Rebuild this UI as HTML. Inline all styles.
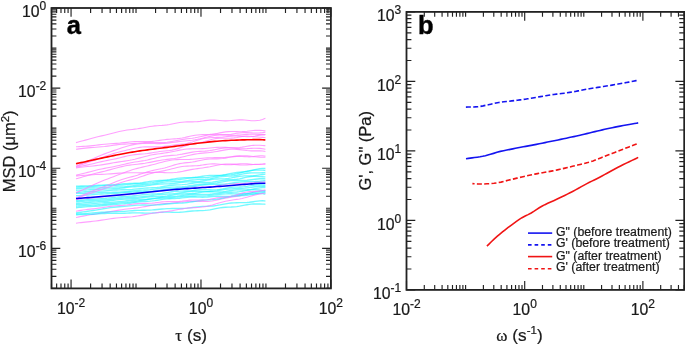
<!DOCTYPE html>
<html><head><meta charset="utf-8"><title>MSD and moduli</title><style>
html,body{margin:0;padding:0;background:#fff;}
body{width:685px;height:345px;overflow:hidden;}
svg{display:block;}
text{font-family:"Liberation Sans",sans-serif;fill:#1a1a1a;stroke:#1a1a1a;stroke-width:0.22px;}
svg{will-change:transform;}
.tl{font-size:15.8px;}
.sup{font-size:12px;}
.sup2{font-size:11.5px;}
.pl{font-size:25.5px;font-weight:bold;fill:#000;stroke:#000;stroke-width:0.4px;}
.at{font-size:16.5px;}
.atx{font-size:17.2px;}
.gr{font-family:"Liberation Serif",serif;font-size:17px;}
.lg{font-size:12.3px;}
.cy{fill:none;stroke:#00f4ff;stroke-width:1.35;stroke-opacity:0.55;}
.pk{fill:none;stroke:#ff7cff;stroke-width:1.1;stroke-opacity:0.72;}
.rd{fill:none;stroke:#ff0000;stroke-width:1.6;}
.bl{fill:none;stroke:#0000f4;stroke-width:1.55;}
.b2{fill:none;stroke-width:1.6;}
.ds{stroke-dasharray:5 2.3;}
.dl{stroke-dasharray:3.6 3;}
</style></head><body>
<svg width="685" height="345" viewBox="0 0 685 345">
<rect width="685" height="345" fill="#fff"/>
<path d="M76 217.49 L77.41 217.23 L79.06 216.9 L80.94 216.53 L83.03 216.13 L85.3 215.69 L87.74 215.25 L90.32 214.8 L93.02 214.36 L95.81 213.93 L98.69 213.51 L101.62 213.08 L104.58 212.64 L107.56 212.16 L110.53 211.65 L113.48 211.12 L116.37 210.59 L119.19 210.1 L121.91 209.67 L124.52 209.3 L127 209 L129.65 208.71 L132.26 208.43 L134.85 208.15 L137.4 207.85 L139.93 207.49 L142.44 207.08 L144.94 206.63 L147.41 206.14 L149.88 205.65 L152.33 205.17 L154.78 204.73 L157.22 204.35 L159.67 204.04 L162.12 203.79 L164.57 203.59 L167.03 203.41 L169.51 203.24 L172 203.04 L174.51 202.82 L177.04 202.56 L179.58 202.28 L182.13 201.99 L184.7 201.72 L187.26 201.5 L189.82 201.36 L192.38 201.31 L194.94 201.33 L197.48 201.41 L200.01 201.5 L202.52 201.57 L205.01 201.57 L207.47 201.47 L209.91 201.25 L212.31 200.92 L214.67 200.5 L217 200.01 L219.79 199.37 L222.63 198.74 L225.49 198.15 L228.35 197.64 L231.21 197.21 L234.03 196.8 L236.8 196.38 L239.51 195.89 L242.12 195.32 L244.64 194.67 L247.03 193.99 L249.28 193.32 L251.37 192.7 L253.28 192.17 L255 191.75 L259.78 190.95 L262.57 190.78 L264.18 190.8 L265.4 190.82" class="pk"/>
<path d="M76 199.5 L77.41 199.34 L79.06 199.17 L80.94 198.98 L83.03 198.78 L85.3 198.58 L87.74 198.37 L90.32 198.16 L93.02 197.93 L95.81 197.67 L98.69 197.39 L101.62 197.07 L104.58 196.72 L107.56 196.35 L110.53 195.99 L113.48 195.65 L116.37 195.35 L119.19 195.11 L121.91 194.91 L124.52 194.75 L127 194.6 L129.65 194.43 L132.26 194.23 L134.85 193.97 L137.4 193.66 L139.93 193.3 L142.44 192.89 L144.94 192.45 L147.41 192.01 L149.88 191.57 L152.33 191.17 L154.78 190.81 L157.22 190.49 L159.67 190.22 L162.12 189.98 L164.57 189.77 L167.03 189.55 L169.51 189.32 L172 189.06 L174.51 188.77 L177.04 188.45 L179.58 188.12 L182.13 187.79 L184.7 187.49 L187.26 187.24 L189.82 187.07 L192.38 186.97 L194.94 186.95 L197.48 186.97 L200.01 187.02 L202.52 187.05 L205.01 187.03 L207.47 186.94 L209.91 186.77 L212.31 186.51 L214.67 186.17 L217 185.79 L219.79 185.29 L222.63 184.8 L225.49 184.37 L228.35 184.04 L231.21 183.81 L234.03 183.68 L236.8 183.6 L239.51 183.53 L242.12 183.44 L244.64 183.3 L247.03 183.1 L249.28 182.87 L251.37 182.61 L253.28 182.36 L255 182.15 L259.78 181.7 L262.57 181.68 L264.18 181.8 L265.4 181.9" class="pk"/>
<path d="M76 176 L77.41 175.88 L79.06 175.73 L80.94 175.56 L83.03 175.38 L85.3 175.19 L87.74 175 L90.32 174.83 L93.02 174.68 L95.81 174.56 L98.69 174.45 L101.62 174.35 L104.58 174.23 L107.56 174.07 L110.53 173.87 L113.48 173.63 L116.37 173.39 L119.19 173.16 L121.91 172.98 L124.52 172.84 L127 172.77 L129.65 172.74 L132.26 172.75 L134.85 172.79 L137.4 172.82 L139.93 172.83 L142.44 172.8 L144.94 172.74 L147.41 172.65 L149.88 172.55 L152.33 172.47 L154.78 172.42 L157.22 172.42 L159.67 172.46 L162.12 172.54 L164.57 172.63 L167.03 172.72 L169.51 172.75 L172 172.71 L174.51 172.56 L177.04 172.29 L179.58 171.91 L182.13 171.44 L184.7 170.91 L187.26 170.38 L189.82 169.86 L192.38 169.4 L194.94 168.98 L197.48 168.62 L200.01 168.29 L202.52 167.95 L205.01 167.58 L207.47 167.16 L209.91 166.7 L212.31 166.19 L214.67 165.68 L217 165.2 L219.79 164.69 L222.63 164.3 L225.49 164.08 L228.35 164.03 L231.21 164.15 L234.03 164.37 L236.8 164.61 L239.51 164.83 L242.12 164.96 L244.64 164.98 L247.03 164.93 L249.28 164.81 L251.37 164.66 L253.28 164.52 L255 164.39 L259.78 164.19 L262.57 164.23 L264.18 164.32 L265.4 164.4" class="pk"/>
<path d="M76 186.1 L77.41 186.07 L79.06 186.05 L80.94 186.02 L83.03 185.99 L85.3 185.94 L87.74 185.85 L90.32 185.72 L93.02 185.56 L95.81 185.38 L98.69 185.21 L101.62 185.08 L104.58 185 L107.56 184.94 L110.53 184.86 L113.48 184.74 L116.37 184.54 L119.19 184.3 L121.91 184.03 L124.52 183.79 L127 183.59 L129.65 183.44 L132.26 183.32 L134.85 183.22 L137.4 183.09 L139.93 182.9 L142.44 182.63 L144.94 182.29 L147.41 181.91 L149.88 181.53 L152.33 181.18 L154.78 180.89 L157.22 180.68 L159.67 180.51 L162.12 180.37 L164.57 180.19 L167.03 179.96 L169.51 179.63 L172 179.24 L174.51 178.81 L177.04 178.4 L179.58 178.05 L182.13 177.81 L184.7 177.67 L187.26 177.6 L189.82 177.55 L192.38 177.46 L194.94 177.27 L197.48 176.97 L200.01 176.61 L202.52 176.23 L205.01 175.89 L207.47 175.65 L209.91 175.53 L212.31 175.49 L214.67 175.5 L217 175.49 L219.79 175.37 L222.63 175.06 L225.49 174.57 L228.35 173.96 L231.21 173.34 L234.03 172.83 L236.8 172.46 L239.51 172.23 L242.12 172.04 L244.64 171.82 L247.03 171.51 L249.28 171.1 L251.37 170.61 L253.28 170.1 L255 169.64 L259.78 168.57 L262.57 168.34 L264.18 168.42 L265.4 168.49" class="cy"/>
<path d="M76 187.17 L77.41 187.1 L79.06 187.02 L80.94 186.95 L83.03 186.89 L85.3 186.82 L87.74 186.74 L90.32 186.64 L93.02 186.5 L95.81 186.32 L98.69 186.1 L101.62 185.87 L104.58 185.67 L107.56 185.51 L110.53 185.41 L113.48 185.35 L116.37 185.29 L119.19 185.2 L121.91 185.05 L124.52 184.85 L127 184.61 L129.65 184.35 L132.26 184.09 L134.85 183.88 L137.4 183.71 L139.93 183.59 L142.44 183.47 L144.94 183.34 L147.41 183.15 L149.88 182.89 L152.33 182.56 L154.78 182.17 L157.22 181.75 L159.67 181.35 L162.12 180.98 L164.57 180.69 L167.03 180.47 L169.51 180.31 L172 180.17 L174.51 180.02 L177.04 179.81 L179.58 179.53 L182.13 179.18 L184.7 178.8 L187.26 178.42 L189.82 178.1 L192.38 177.88 L194.94 177.77 L197.48 177.74 L200.01 177.75 L202.52 177.74 L205.01 177.66 L207.47 177.48 L209.91 177.19 L212.31 176.82 L214.67 176.41 L217 176.02 L219.79 175.6 L222.63 175.27 L225.49 175.04 L228.35 174.85 L231.21 174.61 L234.03 174.25 L236.8 173.72 L239.51 173.07 L242.12 172.36 L244.64 171.68 L247.03 171.1 L249.28 170.67 L251.37 170.38 L253.28 170.2 L255 170.11 L259.78 170.09 L262.57 170.16 L264.18 170.28 L265.4 170.31" class="cy"/>
<path d="M76 188.52 L77.41 188.43 L79.06 188.33 L80.94 188.23 L83.03 188.15 L85.3 188.09 L87.74 188.05 L90.32 188.02 L93.02 187.98 L95.81 187.92 L98.69 187.82 L101.62 187.67 L104.58 187.49 L107.56 187.32 L110.53 187.18 L113.48 187.09 L116.37 187.04 L119.19 186.99 L121.91 186.91 L124.52 186.76 L127 186.54 L129.65 186.24 L132.26 185.89 L134.85 185.54 L137.4 185.23 L139.93 184.97 L142.44 184.76 L144.94 184.58 L147.41 184.41 L149.88 184.2 L152.33 183.93 L154.78 183.6 L157.22 183.22 L159.67 182.82 L162.12 182.45 L164.57 182.15 L167.03 181.93 L169.51 181.81 L172 181.76 L174.51 181.73 L177.04 181.67 L179.58 181.53 L182.13 181.3 L184.7 180.99 L187.26 180.63 L189.82 180.28 L192.38 180 L194.94 179.81 L197.48 179.7 L200.01 179.64 L202.52 179.57 L205.01 179.42 L207.47 179.17 L209.91 178.81 L212.31 178.35 L214.67 177.85 L217 177.37 L219.79 176.87 L222.63 176.51 L225.49 176.28 L228.35 176.13 L231.21 175.97 L234.03 175.71 L236.8 175.3 L239.51 174.77 L242.12 174.2 L244.64 173.69 L247.03 173.28 L249.28 173.02 L251.37 172.88 L253.28 172.83 L255 172.83 L259.78 172.83 L262.57 172.73 L264.18 172.66 L265.4 172.54" class="cy"/>
<path d="M76 190.25 L77.41 190.2 L79.06 190.15 L80.94 190.1 L83.03 190.06 L85.3 190 L87.74 189.91 L90.32 189.79 L93.02 189.63 L95.81 189.45 L98.69 189.26 L101.62 189.09 L104.58 188.97 L107.56 188.89 L110.53 188.81 L113.48 188.71 L116.37 188.55 L119.19 188.32 L121.91 188.03 L124.52 187.73 L127 187.44 L129.65 187.17 L132.26 186.95 L134.85 186.78 L137.4 186.63 L139.93 186.47 L142.44 186.26 L144.94 186 L147.41 185.68 L149.88 185.31 L152.33 184.94 L154.78 184.6 L157.22 184.32 L159.67 184.12 L162.12 184 L164.57 183.93 L167.03 183.87 L169.51 183.77 L172 183.61 L174.51 183.36 L177.04 183.04 L179.58 182.69 L182.13 182.36 L184.7 182.09 L187.26 181.92 L189.82 181.82 L192.38 181.78 L194.94 181.72 L197.48 181.59 L200.01 181.36 L202.52 181.02 L205.01 180.6 L207.47 180.14 L209.91 179.72 L212.31 179.37 L214.67 179.13 L217 178.98 L219.79 178.89 L222.63 178.8 L225.49 178.63 L228.35 178.31 L231.21 177.85 L234.03 177.3 L236.8 176.77 L239.51 176.34 L242.12 176.07 L244.64 175.94 L247.03 175.9 L249.28 175.89 L251.37 175.85 L253.28 175.75 L255 175.61 L259.78 174.92 L262.57 174.48 L264.18 174.31 L265.4 174.19" class="cy"/>
<path d="M76 192.37 L77.41 192.3 L79.06 192.21 L80.94 192.09 L83.03 191.95 L85.3 191.79 L87.74 191.63 L90.32 191.49 L93.02 191.37 L95.81 191.28 L98.69 191.19 L101.62 191.08 L104.58 190.92 L107.56 190.7 L110.53 190.44 L113.48 190.18 L116.37 189.97 L119.19 189.84 L121.91 189.77 L124.52 189.73 L127 189.68 L129.65 189.57 L132.26 189.4 L134.85 189.15 L137.4 188.87 L139.93 188.59 L142.44 188.33 L144.94 188.14 L147.41 188 L149.88 187.89 L152.33 187.79 L154.78 187.64 L157.22 187.41 L159.67 187.1 L162.12 186.71 L164.57 186.28 L167.03 185.86 L169.51 185.5 L172 185.22 L174.51 185.04 L177.04 184.91 L179.58 184.8 L182.13 184.64 L184.7 184.4 L187.26 184.06 L189.82 183.66 L192.38 183.25 L194.94 182.89 L197.48 182.64 L200.01 182.51 L202.52 182.47 L205.01 182.47 L207.47 182.44 L209.91 182.33 L212.31 182.09 L214.67 181.74 L217 181.32 L219.79 180.79 L222.63 180.32 L225.49 179.97 L228.35 179.77 L231.21 179.65 L234.03 179.5 L236.8 179.23 L239.51 178.81 L242.12 178.27 L244.64 177.69 L247.03 177.17 L249.28 176.78 L251.37 176.53 L253.28 176.42 L255 176.4 L259.78 176.61 L262.57 176.79 L264.18 176.91 L265.4 176.94" class="cy"/>
<path d="M76 193.45 L77.41 193.41 L79.06 193.37 L80.94 193.34 L83.03 193.3 L85.3 193.26 L87.74 193.19 L90.32 193.1 L93.02 192.99 L95.81 192.85 L98.69 192.69 L101.62 192.55 L104.58 192.44 L107.56 192.36 L110.53 192.32 L113.48 192.29 L116.37 192.24 L119.19 192.14 L121.91 191.98 L124.52 191.77 L127 191.53 L129.65 191.24 L132.26 190.95 L134.85 190.69 L137.4 190.46 L139.93 190.28 L142.44 190.13 L144.94 189.98 L147.41 189.82 L149.88 189.63 L152.33 189.38 L154.78 189.08 L157.22 188.74 L159.67 188.39 L162.12 188.04 L164.57 187.73 L167.03 187.48 L169.51 187.3 L172 187.19 L174.51 187.11 L177.04 187.04 L179.58 186.94 L182.13 186.77 L184.7 186.52 L187.26 186.18 L189.82 185.78 L192.38 185.36 L194.94 184.96 L197.48 184.61 L200.01 184.33 L202.52 184.13 L205.01 183.97 L207.47 183.84 L209.91 183.68 L212.31 183.47 L214.67 183.2 L217 182.85 L219.79 182.35 L222.63 181.81 L225.49 181.3 L228.35 180.88 L231.21 180.61 L234.03 180.48 L236.8 180.47 L239.51 180.49 L242.12 180.49 L244.64 180.41 L247.03 180.26 L249.28 180.03 L251.37 179.77 L253.28 179.51 L255 179.27 L259.78 178.78 L262.57 178.71 L264.18 178.77 L265.4 178.82" class="cy"/>
<path d="M76 195.75 L77.41 195.68 L79.06 195.59 L80.94 195.48 L83.03 195.35 L85.3 195.19 L87.74 195 L90.32 194.8 L93.02 194.59 L95.81 194.38 L98.69 194.18 L101.62 194.01 L104.58 193.86 L107.56 193.74 L110.53 193.61 L113.48 193.48 L116.37 193.32 L119.19 193.12 L121.91 192.9 L124.52 192.68 L127 192.45 L129.65 192.23 L132.26 192.03 L134.85 191.87 L137.4 191.75 L139.93 191.67 L142.44 191.6 L144.94 191.53 L147.41 191.45 L149.88 191.32 L152.33 191.15 L154.78 190.92 L157.22 190.65 L159.67 190.33 L162.12 189.99 L164.57 189.65 L167.03 189.33 L169.51 189.03 L172 188.78 L174.51 188.56 L177.04 188.37 L179.58 188.18 L182.13 187.97 L184.7 187.73 L187.26 187.44 L189.82 187.09 L192.38 186.69 L194.94 186.25 L197.48 185.81 L200.01 185.4 L202.52 185.04 L205.01 184.75 L207.47 184.54 L209.91 184.41 L212.31 184.34 L214.67 184.31 L217 184.28 L219.79 184.23 L222.63 184.1 L225.49 183.88 L228.35 183.57 L231.21 183.19 L234.03 182.79 L236.8 182.41 L239.51 182.1 L242.12 181.88 L244.64 181.75 L247.03 181.67 L249.28 181.63 L251.37 181.6 L253.28 181.56 L255 181.5 L259.78 181.17 L262.57 180.91 L264.18 180.77 L265.4 180.64" class="cy"/>
<path d="M76 200.66 L77.41 200.55 L79.06 200.42 L80.94 200.26 L83.03 200.06 L85.3 199.85 L87.74 199.63 L90.32 199.42 L93.02 199.22 L95.81 199.05 L98.69 198.89 L101.62 198.72 L104.58 198.49 L107.56 198.19 L110.53 197.84 L113.48 197.47 L116.37 197.12 L119.19 196.82 L121.91 196.6 L124.52 196.44 L127 196.31 L129.65 196.17 L132.26 195.98 L134.85 195.73 L137.4 195.43 L139.93 195.11 L142.44 194.79 L144.94 194.5 L147.41 194.27 L149.88 194.11 L152.33 193.99 L154.78 193.88 L157.22 193.75 L159.67 193.56 L162.12 193.3 L164.57 192.95 L167.03 192.55 L169.51 192.13 L172 191.75 L174.51 191.45 L177.04 191.24 L179.58 191.13 L182.13 191.08 L184.7 191.04 L187.26 190.96 L189.82 190.8 L192.38 190.57 L194.94 190.29 L197.48 190.01 L200.01 189.78 L202.52 189.66 L205.01 189.63 L207.47 189.69 L209.91 189.78 L212.31 189.84 L214.67 189.82 L217 189.68 L219.79 189.34 L222.63 188.86 L225.49 188.31 L228.35 187.8 L231.21 187.43 L234.03 187.2 L236.8 187.08 L239.51 187 L242.12 186.86 L244.64 186.63 L247.03 186.31 L249.28 185.93 L251.37 185.56 L253.28 185.23 L255 184.99 L259.78 184.7 L262.57 184.84 L264.18 185.02 L265.4 185.16" class="cy"/>
<path d="M76 201.83 L77.41 201.71 L79.06 201.57 L80.94 201.41 L83.03 201.25 L85.3 201.08 L87.74 200.9 L90.32 200.74 L93.02 200.58 L95.81 200.42 L98.69 200.26 L101.62 200.07 L104.58 199.84 L107.56 199.57 L110.53 199.26 L113.48 198.93 L116.37 198.59 L119.19 198.29 L121.91 198.02 L124.52 197.81 L127 197.65 L129.65 197.51 L132.26 197.38 L134.85 197.25 L137.4 197.1 L139.93 196.92 L142.44 196.69 L144.94 196.43 L147.41 196.13 L149.88 195.82 L152.33 195.5 L154.78 195.2 L157.22 194.93 L159.67 194.7 L162.12 194.51 L164.57 194.34 L167.03 194.18 L169.51 194.01 L172 193.83 L174.51 193.6 L177.04 193.32 L179.58 192.99 L182.13 192.63 L184.7 192.27 L187.26 191.94 L189.82 191.66 L192.38 191.46 L194.94 191.34 L197.48 191.3 L200.01 191.31 L202.52 191.35 L205.01 191.38 L207.47 191.37 L209.91 191.29 L212.31 191.13 L214.67 190.9 L217 190.62 L219.79 190.22 L222.63 189.8 L225.49 189.41 L228.35 189.09 L231.21 188.85 L234.03 188.69 L236.8 188.57 L239.51 188.46 L242.12 188.31 L244.64 188.12 L247.03 187.87 L249.28 187.59 L251.37 187.3 L253.28 187.02 L255 186.78 L259.78 186.29 L262.57 186.22 L264.18 186.29 L265.4 186.37" class="cy"/>
<path d="M76 203.52 L77.41 203.42 L79.06 203.29 L80.94 203.13 L83.03 202.93 L85.3 202.7 L87.74 202.46 L90.32 202.23 L93.02 202 L95.81 201.8 L98.69 201.62 L101.62 201.44 L104.58 201.23 L107.56 200.96 L110.53 200.64 L113.48 200.28 L116.37 199.92 L119.19 199.6 L121.91 199.35 L124.52 199.17 L127 199.03 L129.65 198.9 L132.26 198.76 L134.85 198.58 L137.4 198.34 L139.93 198.05 L142.44 197.73 L144.94 197.42 L147.41 197.14 L149.88 196.92 L152.33 196.76 L154.78 196.65 L157.22 196.57 L159.67 196.47 L162.12 196.33 L164.57 196.11 L167.03 195.82 L169.51 195.46 L172 195.07 L174.51 194.69 L177.04 194.36 L179.58 194.12 L182.13 193.96 L184.7 193.86 L187.26 193.79 L189.82 193.68 L192.38 193.5 L194.94 193.24 L197.48 192.91 L200.01 192.54 L202.52 192.2 L205.01 191.93 L207.47 191.76 L209.91 191.71 L212.31 191.73 L214.67 191.8 L217 191.86 L219.79 191.84 L222.63 191.69 L225.49 191.38 L228.35 190.97 L231.21 190.54 L234.03 190.18 L236.8 189.95 L239.51 189.85 L242.12 189.83 L244.64 189.81 L247.03 189.73 L249.28 189.57 L251.37 189.33 L253.28 189.03 L255 188.71 L259.78 187.83 L262.57 187.52 L264.18 187.48 L265.4 187.49" class="cy"/>
<path d="M76 204.71 L77.41 204.64 L79.06 204.57 L80.94 204.49 L83.03 204.39 L85.3 204.27 L87.74 204.11 L90.32 203.92 L93.02 203.7 L95.81 203.45 L98.69 203.18 L101.62 202.93 L104.58 202.71 L107.56 202.53 L110.53 202.36 L113.48 202.17 L116.37 201.95 L119.19 201.69 L121.91 201.39 L124.52 201.07 L127 200.76 L129.65 200.46 L132.26 200.21 L134.85 200.01 L137.4 199.86 L139.93 199.74 L142.44 199.62 L144.94 199.47 L147.41 199.27 L149.88 199 L152.33 198.68 L154.78 198.31 L157.22 197.93 L159.67 197.57 L162.12 197.26 L164.57 197 L167.03 196.81 L169.51 196.65 L172 196.51 L174.51 196.35 L177.04 196.14 L179.58 195.86 L182.13 195.53 L184.7 195.16 L187.26 194.81 L189.82 194.52 L192.38 194.32 L194.94 194.23 L197.48 194.24 L200.01 194.3 L202.52 194.38 L205.01 194.42 L207.47 194.37 L209.91 194.23 L212.31 193.99 L214.67 193.69 L217 193.36 L219.79 192.98 L222.63 192.66 L225.49 192.45 L228.35 192.33 L231.21 192.26 L234.03 192.16 L236.8 191.97 L239.51 191.67 L242.12 191.28 L244.64 190.84 L247.03 190.43 L249.28 190.1 L251.37 189.87 L253.28 189.75 L255 189.72 L259.78 189.99 L262.57 190.33 L264.18 190.58 L265.4 190.73" class="cy"/>
<path d="M76 206.24 L77.41 206.12 L79.06 205.99 L80.94 205.85 L83.03 205.71 L85.3 205.58 L87.74 205.44 L90.32 205.3 L93.02 205.15 L95.81 204.98 L98.69 204.78 L101.62 204.55 L104.58 204.27 L107.56 203.98 L110.53 203.67 L113.48 203.38 L116.37 203.11 L119.19 202.87 L121.91 202.66 L124.52 202.47 L127 202.28 L129.65 202.05 L132.26 201.79 L134.85 201.48 L137.4 201.12 L139.93 200.73 L142.44 200.33 L144.94 199.92 L147.41 199.53 L149.88 199.18 L152.33 198.88 L154.78 198.64 L157.22 198.44 L159.67 198.29 L162.12 198.17 L164.57 198.06 L167.03 197.94 L169.51 197.79 L172 197.61 L174.51 197.39 L177.04 197.14 L179.58 196.88 L182.13 196.62 L184.7 196.38 L187.26 196.2 L189.82 196.07 L192.38 195.99 L194.94 195.96 L197.48 195.95 L200.01 195.94 L202.52 195.89 L205.01 195.8 L207.47 195.64 L209.91 195.42 L212.31 195.16 L214.67 194.87 L217 194.57 L219.79 194.24 L222.63 193.97 L225.49 193.8 L228.35 193.73 L231.21 193.75 L234.03 193.81 L236.8 193.86 L239.51 193.86 L242.12 193.78 L244.64 193.62 L247.03 193.38 L249.28 193.1 L251.37 192.81 L253.28 192.53 L255 192.3 L259.78 191.79 L262.57 191.68 L264.18 191.69 L265.4 191.71" class="cy"/>
<path d="M76 207.71 L77.41 207.59 L79.06 207.44 L80.94 207.26 L83.03 207.06 L85.3 206.87 L87.74 206.68 L90.32 206.52 L93.02 206.37 L95.81 206.22 L98.69 206.04 L101.62 205.79 L104.58 205.47 L107.56 205.12 L110.53 204.77 L113.48 204.47 L116.37 204.25 L119.19 204.09 L121.91 203.94 L124.52 203.76 L127 203.53 L129.65 203.21 L132.26 202.84 L134.85 202.46 L137.4 202.13 L139.93 201.86 L142.44 201.66 L144.94 201.52 L147.41 201.37 L149.88 201.19 L152.33 200.94 L154.78 200.61 L157.22 200.22 L159.67 199.8 L162.12 199.42 L164.57 199.11 L167.03 198.89 L169.51 198.76 L172 198.68 L174.51 198.6 L177.04 198.45 L179.58 198.22 L182.13 197.9 L184.7 197.55 L187.26 197.23 L189.82 197.01 L192.38 196.92 L194.94 196.97 L197.48 197.08 L200.01 197.2 L202.52 197.24 L205.01 197.18 L207.47 197 L209.91 196.76 L212.31 196.52 L214.67 196.33 L217 196.24 L219.79 196.25 L222.63 196.36 L225.49 196.46 L228.35 196.41 L231.21 196.16 L234.03 195.71 L236.8 195.17 L239.51 194.67 L242.12 194.29 L244.64 194.08 L247.03 194 L249.28 193.98 L251.37 193.95 L253.28 193.87 L255 193.75 L259.78 193.13 L262.57 192.77 L264.18 192.67 L265.4 192.61" class="cy"/>
<path d="M76 212.99 L77.41 212.77 L79.06 212.52 L80.94 212.23 L83.03 211.93 L85.3 211.6 L87.74 211.26 L90.32 210.89 L93.02 210.49 L95.81 210.05 L98.69 209.56 L101.62 209.05 L104.58 208.53 L107.56 208.05 L110.53 207.63 L113.48 207.29 L116.37 207.01 L119.19 206.78 L121.91 206.56 L124.52 206.33 L127 206.1 L129.65 205.84 L132.26 205.58 L134.85 205.35 L137.4 205.17 L139.93 205.06 L142.44 205.01 L144.94 205.02 L147.41 205.06 L149.88 205.1 L152.33 205.11 L154.78 205.06 L157.22 204.94 L159.67 204.75 L162.12 204.51 L164.57 204.23 L167.03 203.97 L169.51 203.73 L172 203.53 L174.51 203.38 L177.04 203.27 L179.58 203.17 L182.13 203.03 L184.7 202.83 L187.26 202.54 L189.82 202.17 L192.38 201.74 L194.94 201.29 L197.48 200.88 L200.01 200.53 L202.52 200.27 L205.01 200.08 L207.47 199.94 L209.91 199.81 L212.31 199.65 L214.67 199.42 L217 199.11 L219.79 198.62 L222.63 198.03 L225.49 197.4 L228.35 196.82 L231.21 196.37 L234.03 196.06 L236.8 195.87 L239.51 195.76 L242.12 195.64 L244.64 195.48 L247.03 195.24 L249.28 194.94 L251.37 194.61 L253.28 194.3 L255 194.03 L259.78 193.57 L262.57 193.7 L264.18 193.99 L265.4 194.21" class="cy"/>
<path d="M76 213.95 L77.41 213.88 L79.06 213.8 L80.94 213.71 L83.03 213.61 L85.3 213.48 L87.74 213.33 L90.32 213.15 L93.02 212.94 L95.81 212.71 L98.69 212.48 L101.62 212.27 L104.58 212.1 L107.56 211.99 L110.53 211.91 L113.48 211.85 L116.37 211.79 L119.19 211.68 L121.91 211.54 L124.52 211.35 L127 211.15 L129.65 210.92 L132.26 210.71 L134.85 210.54 L137.4 210.41 L139.93 210.33 L142.44 210.27 L144.94 210.23 L147.41 210.17 L149.88 210.08 L152.33 209.94 L154.78 209.74 L157.22 209.51 L159.67 209.26 L162.12 209.01 L164.57 208.8 L167.03 208.64 L169.51 208.55 L172 208.51 L174.51 208.52 L177.04 208.54 L179.58 208.53 L182.13 208.47 L184.7 208.33 L187.26 208.1 L189.82 207.81 L192.38 207.48 L194.94 207.15 L197.48 206.85 L200.01 206.62 L202.52 206.45 L205.01 206.33 L207.47 206.23 L209.91 206.11 L212.31 205.96 L214.67 205.73 L217 205.42 L219.79 204.96 L222.63 204.42 L225.49 203.87 L228.35 203.38 L231.21 203.02 L234.03 202.8 L236.8 202.71 L239.51 202.68 L242.12 202.67 L244.64 202.6 L247.03 202.46 L249.28 202.25 L251.37 201.99 L253.28 201.71 L255 201.45 L259.78 200.85 L262.57 200.76 L264.18 200.88 L265.4 200.97" class="cy"/>
<path d="M76 214.79 L77.41 214.73 L79.06 214.67 L80.94 214.62 L83.03 214.57 L85.3 214.51 L87.74 214.45 L90.32 214.37 L93.02 214.25 L95.81 214.09 L98.69 213.9 L101.62 213.69 L104.58 213.5 L107.56 213.37 L110.53 213.31 L113.48 213.3 L116.37 213.32 L119.19 213.33 L121.91 213.3 L124.52 213.22 L127 213.11 L129.65 212.99 L132.26 212.88 L134.85 212.83 L137.4 212.83 L139.93 212.88 L142.44 212.97 L144.94 213.05 L147.41 213.09 L149.88 213.07 L152.33 212.98 L154.78 212.83 L157.22 212.64 L159.67 212.45 L162.12 212.29 L164.57 212.19 L167.03 212.17 L169.51 212.2 L172 212.27 L174.51 212.32 L177.04 212.32 L179.58 212.24 L182.13 212.06 L184.7 211.81 L187.26 211.52 L189.82 211.24 L192.38 211.01 L194.94 210.85 L197.48 210.76 L200.01 210.7 L202.52 210.61 L205.01 210.45 L207.47 210.19 L209.91 209.82 L212.31 209.36 L214.67 208.86 L217 208.38 L219.79 207.87 L222.63 207.48 L225.49 207.24 L228.35 207.11 L231.21 207.02 L234.03 206.86 L236.8 206.59 L239.51 206.19 L242.12 205.7 L244.64 205.19 L247.03 204.74 L249.28 204.39 L251.37 204.15 L253.28 204.01 L255 203.95 L259.78 203.96 L262.57 204.06 L264.18 204.19 L265.4 204.22" class="cy"/>
<path d="M76 142.6 L77.41 142.26 L79.06 141.84 L80.94 141.34 L83.03 140.76 L85.3 140.11 L87.74 139.41 L90.32 138.68 L93.02 137.95 L95.81 137.23 L98.69 136.55 L101.62 135.9 L104.58 135.24 L107.56 134.54 L110.53 133.81 L113.48 133.03 L116.37 132.27 L119.19 131.55 L121.91 130.94 L124.52 130.44 L127 130.06 L129.65 129.72 L132.26 129.43 L134.85 129.12 L137.4 128.78 L139.93 128.38 L142.44 127.93 L144.94 127.45 L147.41 126.98 L149.88 126.55 L152.33 126.19 L154.78 125.92 L157.22 125.72 L159.67 125.55 L162.12 125.39 L164.57 125.17 L167.03 124.88 L169.51 124.5 L172 124.02 L174.51 123.5 L177.04 122.99 L179.58 122.55 L182.13 122.21 L184.7 122.01 L187.26 121.91 L189.82 121.89 L192.38 121.86 L194.94 121.78 L197.48 121.61 L200.01 121.34 L202.52 121.01 L205.01 120.66 L207.47 120.36 L209.91 120.16 L212.31 120.09 L214.67 120.15 L217 120.3 L219.79 120.54 L222.63 120.76 L225.49 120.87 L228.35 120.8 L231.21 120.57 L234.03 120.27 L236.8 120 L239.51 119.85 L242.12 119.87 L244.64 120.03 L247.03 120.28 L249.28 120.53 L251.37 120.72 L253.28 120.82 L255 120.81 L259.78 120.2 L262.57 119.42 L264.18 118.78 L265.4 118.34" class="pk"/>
<path d="M76 146.81 L77.41 146.73 L79.06 146.64 L80.94 146.54 L83.03 146.42 L85.3 146.27 L87.74 146.09 L90.32 145.86 L93.02 145.58 L95.81 145.26 L98.69 144.91 L101.62 144.56 L104.58 144.25 L107.56 144 L110.53 143.79 L113.48 143.6 L116.37 143.41 L119.19 143.19 L121.91 142.92 L124.52 142.62 L127 142.33 L129.65 142.03 L132.26 141.78 L134.85 141.62 L137.4 141.54 L139.93 141.52 L142.44 141.55 L144.94 141.58 L147.41 141.57 L149.88 141.5 L152.33 141.33 L154.78 141.07 L157.22 140.75 L159.67 140.39 L162.12 140.03 L164.57 139.7 L167.03 139.42 L169.51 139.2 L172 139.03 L174.51 138.86 L177.04 138.64 L179.58 138.35 L182.13 137.96 L184.7 137.47 L187.26 136.91 L189.82 136.33 L192.38 135.78 L194.94 135.32 L197.48 134.98 L200.01 134.77 L202.52 134.65 L205.01 134.59 L207.47 134.51 L209.91 134.37 L212.31 134.15 L214.67 133.82 L217 133.42 L219.79 132.88 L222.63 132.35 L225.49 131.9 L228.35 131.62 L231.21 131.51 L234.03 131.54 L236.8 131.63 L239.51 131.7 L242.12 131.67 L244.64 131.53 L247.03 131.31 L249.28 131.03 L251.37 130.77 L253.28 130.55 L255 130.39 L259.78 130.31 L262.57 130.53 L264.18 130.73 L265.4 130.9" class="pk"/>
<path d="M76 149.27 L77.41 149.09 L79.06 148.88 L80.94 148.64 L83.03 148.38 L85.3 148.13 L87.74 147.88 L90.32 147.65 L93.02 147.44 L95.81 147.24 L98.69 147.04 L101.62 146.79 L104.58 146.48 L107.56 146.1 L110.53 145.68 L113.48 145.25 L116.37 144.86 L119.19 144.53 L121.91 144.28 L124.52 144.09 L127 143.95 L129.65 143.81 L132.26 143.65 L134.85 143.47 L137.4 143.25 L139.93 143.02 L142.44 142.78 L144.94 142.59 L147.41 142.45 L149.88 142.38 L152.33 142.39 L154.78 142.45 L157.22 142.53 L159.67 142.59 L162.12 142.58 L164.57 142.47 L167.03 142.24 L169.51 141.9 L172 141.45 L174.51 140.94 L177.04 140.42 L179.58 139.92 L182.13 139.49 L184.7 139.12 L187.26 138.81 L189.82 138.52 L192.38 138.19 L194.94 137.79 L197.48 137.32 L200.01 136.76 L202.52 136.18 L205.01 135.61 L207.47 135.11 L209.91 134.73 L212.31 134.49 L214.67 134.4 L217 134.42 L219.79 134.53 L222.63 134.64 L225.49 134.66 L228.35 134.52 L231.21 134.2 L234.03 133.78 L236.8 133.33 L239.51 132.95 L242.12 132.71 L244.64 132.62 L247.03 132.66 L249.28 132.77 L251.37 132.9 L253.28 133 L255 133.05 L259.78 132.88 L262.57 132.6 L264.18 132.39 L265.4 132.23" class="pk"/>
<path d="M76 165.99 L77.41 165.46 L79.06 164.81 L80.94 164.05 L83.03 163.17 L85.3 162.2 L87.74 161.14 L90.32 160 L93.02 158.8 L95.81 157.57 L98.69 156.32 L101.62 155.08 L104.58 153.88 L107.56 152.74 L110.53 151.66 L113.48 150.64 L116.37 149.66 L119.19 148.73 L121.91 147.84 L124.52 147.01 L127 146.27 L129.65 145.54 L132.26 144.9 L134.85 144.37 L137.4 143.94 L139.93 143.63 L142.44 143.44 L144.94 143.35 L147.41 143.34 L149.88 143.39 L152.33 143.48 L154.78 143.56 L157.22 143.61 L159.67 143.61 L162.12 143.54 L164.57 143.4 L167.03 143.19 L169.51 142.91 L172 142.57 L174.51 142.21 L177.04 141.87 L179.58 141.56 L182.13 141.28 L184.7 141.02 L187.26 140.77 L189.82 140.5 L192.38 140.18 L194.94 139.8 L197.48 139.33 L200.01 138.79 L202.52 138.19 L205.01 137.57 L207.47 136.94 L209.91 136.37 L212.31 135.87 L214.67 135.47 L217 135.19 L219.79 135.01 L222.63 134.96 L225.49 135.01 L228.35 135.1 L231.21 135.17 L234.03 135.18 L236.8 135.11 L239.51 134.97 L242.12 134.78 L244.64 134.58 L247.03 134.41 L249.28 134.29 L251.37 134.22 L253.28 134.21 L255 134.23 L259.78 134.44 L262.57 134.64 L264.18 134.75 L265.4 134.82" class="pk"/>
<path d="M76 166.75 L77.41 166.23 L79.06 165.61 L80.94 164.92 L83.03 164.16 L85.3 163.36 L87.74 162.53 L90.32 161.65 L93.02 160.74 L95.81 159.77 L98.69 158.76 L101.62 157.69 L104.58 156.6 L107.56 155.52 L110.53 154.5 L113.48 153.57 L116.37 152.73 L119.19 151.99 L121.91 151.31 L124.52 150.67 L127 150.07 L129.65 149.44 L132.26 148.82 L134.85 148.25 L137.4 147.75 L139.93 147.34 L142.44 147.05 L144.94 146.88 L147.41 146.82 L149.88 146.83 L152.33 146.88 L154.78 146.92 L157.22 146.91 L159.67 146.81 L162.12 146.63 L164.57 146.36 L167.03 146.04 L169.51 145.68 L172 145.32 L174.51 144.98 L177.04 144.67 L179.58 144.38 L182.13 144.07 L184.7 143.7 L187.26 143.23 L189.82 142.63 L192.38 141.91 L194.94 141.1 L197.48 140.28 L200.01 139.5 L202.52 138.82 L205.01 138.3 L207.47 137.93 L209.91 137.7 L212.31 137.57 L214.67 137.49 L217 137.41 L219.79 137.27 L222.63 137.03 L225.49 136.72 L228.35 136.38 L231.21 136.1 L234.03 135.96 L236.8 135.97 L239.51 136.13 L242.12 136.35 L244.64 136.56 L247.03 136.68 L249.28 136.68 L251.37 136.56 L253.28 136.35 L255 136.07 L259.78 135.15 L262.57 134.73 L264.18 134.58 L265.4 134.52" class="pk"/>
<path d="M76 167.2 L77.41 166.92 L79.06 166.6 L80.94 166.24 L83.03 165.83 L85.3 165.38 L87.74 164.88 L90.32 164.3 L93.02 163.67 L95.81 162.98 L98.69 162.28 L101.62 161.59 L104.58 160.94 L107.56 160.35 L110.53 159.8 L113.48 159.24 L116.37 158.64 L119.19 157.98 L121.91 157.3 L124.52 156.62 L127 156 L129.65 155.42 L132.26 154.95 L134.85 154.61 L137.4 154.36 L139.93 154.17 L142.44 153.99 L144.94 153.78 L147.41 153.5 L149.88 153.15 L152.33 152.75 L154.78 152.33 L157.22 151.93 L159.67 151.57 L162.12 151.27 L164.57 151.02 L167.03 150.78 L169.51 150.49 L172 150.1 L174.51 149.57 L177.04 148.86 L179.58 148.01 L182.13 147.08 L184.7 146.14 L187.26 145.27 L189.82 144.51 L192.38 143.89 L194.94 143.38 L197.48 142.92 L200.01 142.46 L202.52 141.94 L205.01 141.34 L207.47 140.67 L209.91 139.97 L212.31 139.33 L214.67 138.79 L217 138.4 L219.79 138.16 L222.63 138.12 L225.49 138.19 L228.35 138.23 L231.21 138.14 L234.03 137.86 L236.8 137.44 L239.51 136.96 L242.12 136.53 L244.64 136.25 L247.03 136.15 L249.28 136.22 L251.37 136.38 L253.28 136.59 L255 136.77 L259.78 137.18 L262.57 137.38 L264.18 137.55 L265.4 137.62" class="pk"/>
<path d="M76 168.02 L77.41 167.79 L79.06 167.55 L80.94 167.29 L83.03 167.03 L85.3 166.76 L87.74 166.5 L90.32 166.22 L93.02 165.94 L95.81 165.63 L98.69 165.27 L101.62 164.86 L104.58 164.4 L107.56 163.88 L110.53 163.35 L113.48 162.83 L116.37 162.34 L119.19 161.9 L121.91 161.49 L124.52 161.11 L127 160.73 L129.65 160.28 L132.26 159.77 L134.85 159.2 L137.4 158.57 L139.93 157.9 L142.44 157.21 L144.94 156.54 L147.41 155.91 L149.88 155.33 L152.33 154.83 L154.78 154.4 L157.22 154.02 L159.67 153.68 L162.12 153.35 L164.57 153 L167.03 152.62 L169.51 152.19 L172 151.71 L174.51 151.2 L177.04 150.67 L179.58 150.15 L182.13 149.69 L184.7 149.32 L187.26 149.05 L189.82 148.87 L192.38 148.79 L194.94 148.75 L197.48 148.73 L200.01 148.69 L202.52 148.59 L205.01 148.44 L207.47 148.24 L209.91 147.99 L212.31 147.75 L214.67 147.53 L217 147.35 L219.79 147.25 L222.63 147.26 L225.49 147.38 L228.35 147.55 L231.21 147.7 L234.03 147.76 L236.8 147.68 L239.51 147.44 L242.12 147.09 L244.64 146.67 L247.03 146.24 L249.28 145.86 L251.37 145.55 L253.28 145.35 L255 145.22 L259.78 145.24 L262.57 145.47 L264.18 145.67 L265.4 145.81" class="pk"/>
<path d="M76 175.17 L77.41 174.87 L79.06 174.51 L80.94 174.08 L83.03 173.58 L85.3 173.02 L87.74 172.39 L90.32 171.72 L93.02 171.01 L95.81 170.29 L98.69 169.59 L101.62 168.94 L104.58 168.34 L107.56 167.78 L110.53 167.24 L113.48 166.68 L116.37 166.08 L119.19 165.45 L121.91 164.8 L124.52 164.17 L127 163.59 L129.65 163.02 L132.26 162.51 L134.85 162.07 L137.4 161.67 L139.93 161.29 L142.44 160.89 L144.94 160.46 L147.41 159.96 L149.88 159.4 L152.33 158.79 L154.78 158.17 L157.22 157.56 L159.67 157 L162.12 156.53 L164.57 156.14 L167.03 155.85 L169.51 155.62 L172 155.42 L174.51 155.2 L177.04 154.93 L179.58 154.58 L182.13 154.14 L184.7 153.63 L187.26 153.1 L189.82 152.59 L192.38 152.15 L194.94 151.81 L197.48 151.56 L200.01 151.38 L202.52 151.24 L205.01 151.08 L207.47 150.86 L209.91 150.55 L212.31 150.14 L214.67 149.67 L217 149.17 L219.79 148.59 L222.63 148.13 L225.49 147.84 L228.35 147.77 L231.21 147.89 L234.03 148.14 L236.8 148.41 L239.51 148.63 L242.12 148.73 L244.64 148.72 L247.03 148.63 L249.28 148.49 L251.37 148.36 L253.28 148.27 L255 148.22 L259.78 148.38 L262.57 148.72 L264.18 148.98 L265.4 149.17" class="pk"/>
<path d="M76 178.79 L77.41 178.42 L79.06 177.96 L80.94 177.43 L83.03 176.83 L85.3 176.18 L87.74 175.48 L90.32 174.77 L93.02 174.04 L95.81 173.32 L98.69 172.6 L101.62 171.89 L104.58 171.16 L107.56 170.4 L110.53 169.63 L113.48 168.83 L116.37 168.04 L119.19 167.3 L121.91 166.62 L124.52 166.03 L127 165.55 L129.65 165.12 L132.26 164.77 L134.85 164.47 L137.4 164.19 L139.93 163.91 L142.44 163.6 L144.94 163.24 L147.41 162.82 L149.88 162.36 L152.33 161.87 L154.78 161.38 L157.22 160.89 L159.67 160.44 L162.12 160.04 L164.57 159.68 L167.03 159.37 L169.51 159.08 L172 158.79 L174.51 158.46 L177.04 158.07 L179.58 157.6 L182.13 157.06 L184.7 156.46 L187.26 155.83 L189.82 155.21 L192.38 154.63 L194.94 154.12 L197.48 153.7 L200.01 153.37 L202.52 153.11 L205.01 152.89 L207.47 152.69 L209.91 152.45 L212.31 152.17 L214.67 151.82 L217 151.43 L219.79 150.91 L222.63 150.37 L225.49 149.88 L228.35 149.5 L231.21 149.29 L234.03 149.26 L236.8 149.41 L239.51 149.67 L242.12 150 L244.64 150.31 L247.03 150.57 L249.28 150.75 L251.37 150.84 L253.28 150.87 L255 150.84 L259.78 150.76 L262.57 150.94 L264.18 151.21 L265.4 151.42" class="pk"/>
<path d="M76 192.7 L77.41 192.13 L79.06 191.43 L80.94 190.62 L83.03 189.68 L85.3 188.65 L87.74 187.52 L90.32 186.32 L93.02 185.07 L95.81 183.79 L98.69 182.51 L101.62 181.26 L104.58 180.05 L107.56 178.89 L110.53 177.76 L113.48 176.65 L116.37 175.57 L119.19 174.5 L121.91 173.46 L124.52 172.49 L127 171.59 L129.65 170.68 L132.26 169.83 L134.85 169.05 L137.4 168.35 L139.93 167.7 L142.44 167.11 L144.94 166.54 L147.41 165.98 L149.88 165.41 L152.33 164.81 L154.78 164.17 L157.22 163.51 L159.67 162.84 L162.12 162.17 L164.57 161.54 L167.03 160.96 L169.51 160.47 L172 160.07 L174.51 159.79 L177.04 159.63 L179.58 159.55 L182.13 159.53 L184.7 159.52 L187.26 159.49 L189.82 159.41 L192.38 159.27 L194.94 159.06 L197.48 158.8 L200.01 158.52 L202.52 158.26 L205.01 158.03 L207.47 157.86 L209.91 157.74 L212.31 157.68 L214.67 157.66 L217 157.63 L219.79 157.59 L222.63 157.5 L225.49 157.33 L228.35 157.07 L231.21 156.75 L234.03 156.4 L236.8 156.09 L239.51 155.86 L242.12 155.76 L244.64 155.78 L247.03 155.9 L249.28 156.1 L251.37 156.32 L253.28 156.54 L255 156.72 L259.78 157.09 L262.57 157.21 L264.18 157.27 L265.4 157.26" class="pk"/>
<path d="M76 197.92 L77.41 197.38 L79.06 196.71 L80.94 195.93 L83.03 195.04 L85.3 194.06 L87.74 193 L90.32 191.91 L93.02 190.79 L95.81 189.69 L98.69 188.6 L101.62 187.51 L104.58 186.39 L107.56 185.23 L110.53 184.01 L113.48 182.79 L116.37 181.6 L119.19 180.5 L121.91 179.54 L124.52 178.72 L127 178.02 L129.65 177.33 L132.26 176.65 L134.85 175.93 L137.4 175.17 L139.93 174.35 L142.44 173.51 L144.94 172.68 L147.41 171.9 L149.88 171.2 L152.33 170.59 L154.78 170.05 L157.22 169.56 L159.67 169.07 L162.12 168.54 L164.57 167.92 L167.03 167.22 L169.51 166.45 L172 165.65 L174.51 164.87 L177.04 164.19 L179.58 163.63 L182.13 163.21 L184.7 162.9 L187.26 162.64 L189.82 162.37 L192.38 162.03 L194.94 161.59 L197.48 161.06 L200.01 160.5 L202.52 159.96 L205.01 159.5 L207.47 159.18 L209.91 158.99 L212.31 158.92 L214.67 158.9 L217 158.88 L219.79 158.78 L222.63 158.52 L225.49 158.1 L228.35 157.56 L231.21 157.02 L234.03 156.61 L236.8 156.39 L239.51 156.37 L242.12 156.49 L244.64 156.67 L247.03 156.8 L249.28 156.83 L251.37 156.76 L253.28 156.6 L255 156.39 L259.78 155.81 L262.57 155.77 L264.18 155.95 L265.4 156.12" class="pk"/>
<path d="M76 198.71 L77.41 198.21 L79.06 197.61 L80.94 196.9 L83.03 196.11 L85.3 195.26 L87.74 194.35 L90.32 193.42 L93.02 192.48 L95.81 191.54 L98.69 190.59 L101.62 189.62 L104.58 188.6 L107.56 187.53 L110.53 186.41 L113.48 185.27 L116.37 184.17 L119.19 183.15 L121.91 182.25 L124.52 181.47 L127 180.79 L129.65 180.1 L132.26 179.41 L134.85 178.68 L137.4 177.91 L139.93 177.08 L142.44 176.22 L144.94 175.36 L147.41 174.54 L149.88 173.78 L152.33 173.11 L154.78 172.52 L157.22 172.02 L159.67 171.56 L162.12 171.1 L164.57 170.62 L167.03 170.08 L169.51 169.48 L172 168.83 L174.51 168.17 L177.04 167.54 L179.58 166.99 L182.13 166.56 L184.7 166.27 L187.26 166.09 L189.82 165.99 L192.38 165.91 L194.94 165.8 L197.48 165.61 L200.01 165.34 L202.52 165.01 L205.01 164.65 L207.47 164.31 L209.91 164.06 L212.31 163.92 L214.67 163.91 L217 163.99 L219.79 164.19 L222.63 164.44 L225.49 164.63 L228.35 164.69 L231.21 164.58 L234.03 164.36 L236.8 164.09 L239.51 163.86 L242.12 163.75 L244.64 163.78 L247.03 163.92 L249.28 164.12 L251.37 164.31 L253.28 164.47 L255 164.54 L259.78 164.37 L262.57 163.97 L264.18 163.67 L265.4 163.42" class="pk"/>
<path d="M76 211.17 L77.41 210.94 L79.06 210.66 L80.94 210.35 L83.03 210.03 L85.3 209.71 L87.74 209.41 L90.32 209.12 L93.02 208.83 L95.81 208.5 L98.69 208.13 L101.62 207.69 L104.58 207.21 L107.56 206.75 L110.53 206.35 L113.48 206.04 L116.37 205.82 L119.19 205.65 L121.91 205.47 L124.52 205.24 L127 204.97 L129.65 204.61 L132.26 204.25 L134.85 203.91 L137.4 203.65 L139.93 203.49 L142.44 203.41 L144.94 203.39 L147.41 203.37 L149.88 203.29 L152.33 203.14 L154.78 202.89 L157.22 202.57 L159.67 202.23 L162.12 201.92 L164.57 201.69 L167.03 201.57 L169.51 201.54 L172 201.56 L174.51 201.58 L177.04 201.54 L179.58 201.39 L182.13 201.13 L184.7 200.79 L187.26 200.44 L189.82 200.15 L192.38 199.99 L194.94 199.96 L197.48 200.04 L200.01 200.13 L202.52 200.17 L205.01 200.07 L207.47 199.8 L209.91 199.39 L212.31 198.88 L214.67 198.36 L217 197.89 L219.79 197.45 L222.63 197.16 L225.49 196.95 L228.35 196.72 L231.21 196.33 L234.03 195.71 L236.8 194.89 L239.51 193.99 L242.12 193.13 L244.64 192.44 L247.03 191.96 L249.28 191.67 L251.37 191.53 L253.28 191.45 L255 191.38 L259.78 190.97 L262.57 190.48 L264.18 190.15 L265.4 189.87" class="pk"/>
<path d="M76 223.19 L77.41 223.01 L79.06 222.81 L80.94 222.59 L83.03 222.36 L85.3 222.11 L87.74 221.86 L90.32 221.58 L93.02 221.28 L95.81 220.95 L98.69 220.58 L101.62 220.16 L104.58 219.7 L107.56 219.24 L110.53 218.79 L113.48 218.38 L116.37 218.03 L119.19 217.75 L121.91 217.53 L124.52 217.34 L127 217.16 L129.65 216.94 L132.26 216.69 L134.85 216.38 L137.4 216.01 L139.93 215.59 L142.44 215.13 L144.94 214.65 L147.41 214.18 L149.88 213.74 L152.33 213.33 L154.78 212.97 L157.22 212.65 L159.67 212.36 L162.12 212.08 L164.57 211.8 L167.03 211.49 L169.51 211.13 L172 210.72 L174.51 210.27 L177.04 209.8 L179.58 209.32 L182.13 208.87 L184.7 208.48 L187.26 208.15 L189.82 207.91 L192.38 207.73 L194.94 207.59 L197.48 207.45 L200.01 207.27 L202.52 207.02 L205.01 206.66 L207.47 206.2 L209.91 205.63 L212.31 204.98 L214.67 204.28 L217 203.57 L219.79 202.73 L222.63 201.94 L225.49 201.26 L228.35 200.7 L231.21 200.23 L234.03 199.82 L236.8 199.41 L239.51 198.96 L242.12 198.43 L244.64 197.84 L247.03 197.2 L249.28 196.55 L251.37 195.93 L253.28 195.37 L255 194.91 L259.78 193.84 L262.57 193.43 L264.18 193.29 L265.4 193.18" class="pk"/>
<path d="M76 163.7 L77.41 163.4 L79.06 163.04 L80.94 162.63 L83.03 162.17 L85.3 161.67 L87.74 161.14 L90.32 160.57 L93.02 159.98 L95.81 159.37 L98.69 158.74 L101.62 158.11 L104.58 157.48 L107.56 156.85 L110.53 156.22 L113.48 155.62 L116.37 155.03 L119.19 154.47 L121.91 153.94 L124.52 153.45 L127 153 L129.65 152.54 L132.26 152.1 L134.85 151.69 L137.4 151.29 L139.93 150.91 L142.44 150.54 L144.94 150.19 L147.41 149.85 L149.88 149.53 L152.33 149.2 L154.78 148.89 L157.22 148.58 L159.67 148.27 L162.12 147.96 L164.57 147.65 L167.03 147.34 L169.51 147.02 L172 146.7 L174.51 146.37 L177.04 146.03 L179.58 145.69 L182.13 145.35 L184.7 145.01 L187.26 144.66 L189.82 144.32 L192.38 143.99 L194.94 143.66 L197.48 143.33 L200.01 143.02 L202.52 142.71 L205.01 142.42 L207.47 142.14 L209.91 141.88 L212.31 141.64 L214.67 141.41 L217 141.2 L219.79 140.98 L222.63 140.78 L225.49 140.6 L228.35 140.44 L231.21 140.3 L234.03 140.18 L236.8 140.08 L239.51 139.99 L242.12 139.91 L244.64 139.84 L247.03 139.78 L249.28 139.73 L251.37 139.68 L253.28 139.64 L255 139.6 L259.78 139.57 L262.57 139.7 L264.18 139.88 L265.4 140" class="rd"/>
<path d="M76 198.6 L77.41 198.48 L79.06 198.35 L80.94 198.19 L83.03 198.02 L85.3 197.83 L87.74 197.63 L90.32 197.42 L93.02 197.2 L95.81 196.97 L98.69 196.73 L101.62 196.49 L104.58 196.24 L107.56 195.99 L110.53 195.74 L113.48 195.49 L116.37 195.24 L119.19 195 L121.91 194.76 L124.52 194.52 L127 194.3 L129.65 194.05 L132.26 193.8 L134.85 193.55 L137.4 193.29 L139.93 193.03 L142.44 192.77 L144.94 192.5 L147.41 192.24 L149.88 191.98 L152.33 191.72 L154.78 191.46 L157.22 191.21 L159.67 190.96 L162.12 190.72 L164.57 190.48 L167.03 190.24 L169.51 190.02 L172 189.8 L174.51 189.59 L177.04 189.39 L179.58 189.19 L182.13 189 L184.7 188.81 L187.26 188.63 L189.82 188.45 L192.38 188.28 L194.94 188.11 L197.48 187.94 L200.01 187.77 L202.52 187.6 L205.01 187.44 L207.47 187.27 L209.91 187.11 L212.31 186.94 L214.67 186.77 L217 186.6 L219.79 186.39 L222.63 186.17 L225.49 185.94 L228.35 185.72 L231.21 185.49 L234.03 185.26 L236.8 185.03 L239.51 184.81 L242.12 184.6 L244.64 184.39 L247.03 184.2 L249.28 184.02 L251.37 183.86 L253.28 183.72 L255 183.6 L259.78 183.33 L262.57 183.26 L264.18 183.29 L265.4 183.3" class="bl"/>
<path d="M466 158.7 L468.39 158.4 L472.1 157.9 L474.48 157.57 L477.24 157.18 L480.05 156.75 L482.6 156.3 L485.36 155.7 L487.82 155.05 L490.5 154.3 L493.62 153.37 L496.96 152.33 L500.3 151.4 L503.57 150.67 L506.85 150.05 L510.2 149.4 L512.78 148.85 L515.41 148.29 L518.06 147.73 L520.7 147.2 L523.25 146.75 L525.74 146.34 L528.34 145.91 L531.2 145.4 L533.72 144.91 L536.4 144.37 L539.19 143.8 L542.07 143.2 L545 142.6 L547.52 142.09 L550.16 141.55 L552.84 141 L555.51 140.45 L558.12 139.91 L560.6 139.4 L563.51 138.79 L566.39 138.18 L569.14 137.59 L571.65 137.06 L573.8 136.6 L576.63 136.04 L580 135.3 L581.91 134.84 L584.18 134.28 L586.71 133.65 L589.41 132.97 L592.17 132.29 L594.9 131.62 L597.5 131 L599.95 130.42 L602.33 129.87 L604.7 129.32 L607.1 128.77 L609.58 128.22 L612.2 127.67 L615 127.1 L617.45 126.62 L620.22 126.11 L623.17 125.57 L626.19 125.02 L629.17 124.5 L631.97 124 L634.49 123.56 L636.61 123.18 L638.2 122.9" class="b2" stroke="#1414f0"/>
<path d="M465.9 107.1 L468.07 107.06 L471.19 107.02 L474.64 106.91 L477.8 106.7 L480.52 106.34 L483.14 105.87 L485.71 105.34 L488.3 104.8 L490.86 104.24 L493.39 103.63 L495.99 103.04 L498.8 102.5 L501.25 102.14 L503.85 101.81 L506.53 101.51 L509.23 101.22 L511.9 100.9 L514.58 100.57 L517.3 100.23 L520.01 99.88 L522.63 99.54 L525.1 99.2 L527.79 98.8 L530.19 98.41 L532.67 98 L535.6 97.5 L537.9 97.1 L540.38 96.66 L543.01 96.19 L545.75 95.71 L548.56 95.24 L551.4 94.8 L553.87 94.45 L556.41 94.13 L558.99 93.82 L561.63 93.5 L564.3 93.17 L566.99 92.81 L569.7 92.4 L572.44 91.93 L575.23 91.42 L578.04 90.87 L580.88 90.31 L583.73 89.75 L586.57 89.21 L589.4 88.7 L592.21 88.23 L595.03 87.78 L597.84 87.35 L600.66 86.93 L603.47 86.5 L606.29 86.06 L609.1 85.6 L612 85.11 L615.03 84.58 L618.08 84.04 L621.08 83.51 L623.92 83 L626.53 82.52 L628.8 82.1 L633.04 81.28 L636.14 80.63 L638.2 80.2" class="b2 ds" stroke="#1414f0"/>
<path d="M486.9 246.1 L488.73 244.33 L491.34 241.8 L494.35 238.94 L497.4 236.2 L499.86 234.12 L502.49 231.97 L505.18 229.82 L507.85 227.74 L510.4 225.8 L513.45 223.53 L516.44 221.39 L519.3 219.43 L522 217.7 L525.17 215.97 L528.08 214.61 L531.2 213 L533.76 211.4 L536.43 209.62 L539.25 207.78 L542.3 206 L544.94 204.66 L547.75 203.35 L550.67 202.04 L553.67 200.71 L556.7 199.3 L559.28 198.06 L561.95 196.79 L564.66 195.48 L567.36 194.15 L570.03 192.82 L572.6 191.5 L575.59 189.9 L578.51 188.28 L581.36 186.66 L584.16 185.09 L586.9 183.6 L589.47 182.28 L591.86 181.1 L594.26 179.94 L596.81 178.68 L599.7 177.2 L602.01 175.97 L604.47 174.63 L607.06 173.2 L609.74 171.73 L612.47 170.23 L615.24 168.74 L618 167.3 L620.57 165.99 L623.39 164.59 L626.32 163.15 L629.24 161.73 L632.02 160.39 L634.53 159.18 L636.63 158.16 L638.2 157.4" class="b2" stroke="#f01414"/>
<path d="M472.4 183.6 L474.39 183.73 L477.23 183.9 L480 184 L483.54 183.96 L487 183.8 L490.5 183.61 L494 183.3 L497.5 182.78 L501 182.1 L504.5 181.23 L508 180.3 L511.62 179.41 L515 178.6 L516.84 178.13 L520 177.4 L521.84 176.99 L524.09 176.49 L526.63 175.92 L529.34 175.32 L532.14 174.72 L534.89 174.13 L537.5 173.6 L540 173.12 L542.5 172.67 L545 172.23 L547.5 171.8 L550 171.36 L552.5 170.9 L555 170.4 L557.5 169.86 L560 169.3 L562.5 168.72 L565 168.13 L567.5 167.52 L570 166.91 L572.5 166.3 L575.03 165.7 L577.6 165.09 L580.18 164.48 L582.74 163.86 L585.26 163.23 L587.68 162.58 L590 161.9 L593.02 160.9 L595.85 159.85 L598.57 158.77 L601.26 157.68 L604 156.6 L606.7 155.57 L609.3 154.57 L611.95 153.54 L614.8 152.44 L618 151.2 L620.37 150.28 L623.09 149.22 L626.01 148.07 L628.98 146.91 L631.83 145.79 L634.43 144.78 L636.6 143.93 L638.2 143.3" class="b2 ds" stroke="#f01414" stroke-dashoffset="2.8"/>
<path d="M528 233.1 H552.2" class="b2" stroke="#1414f0"/>
<text x="556" y="235.5" class="lg">G&quot; (before treatment)</text>
<path d="M528 244.9 H552.2" class="b2 dl" stroke="#1414f0"/>
<text x="556" y="247" class="lg">G' (before treatment)</text>
<path d="M528 256.6 H552.2" class="b2" stroke="#f01414"/>
<text x="556" y="259.5" class="lg">G&quot; (after treatment)</text>
<path d="M528 268.7 H552.2" class="b2 dl" stroke="#f01414"/>
<text x="556" y="270.8" class="lg">G' (after treatment)</text>
<path d="M51.5 288.4v-4.9M51.5 8v4.9M56.64 288.4v-4.9M56.64 8v4.9M60.99 288.4v-4.9M60.99 8v4.9M64.76 288.4v-4.9M64.76 8v4.9M68.08 288.4v-4.9M68.08 8v4.9M71.06 288.4v-8.8M71.06 8v8.8M90.61 288.4v-4.9M90.61 8v4.9M102.05 288.4v-4.9M102.05 8v4.9M110.17 288.4v-4.9M110.17 8v4.9M116.46 288.4v-4.9M116.46 8v4.9M121.6 288.4v-4.9M121.6 8v4.9M125.95 288.4v-4.9M125.95 8v4.9M129.72 288.4v-4.9M129.72 8v4.9M133.04 288.4v-4.9M133.04 8v4.9M136.02 288.4v-4.9M136.02 8v4.9M155.57 288.4v-4.9M155.57 8v4.9M167.01 288.4v-4.9M167.01 8v4.9M175.13 288.4v-4.9M175.13 8v4.9M181.42 288.4v-4.9M181.42 8v4.9M186.57 288.4v-4.9M186.57 8v4.9M190.92 288.4v-4.9M190.92 8v4.9M194.68 288.4v-4.9M194.68 8v4.9M198.01 288.4v-4.9M198.01 8v4.9M200.98 288.4v-8.8M200.98 8v8.8M220.53 288.4v-4.9M220.53 8v4.9M231.97 288.4v-4.9M231.97 8v4.9M240.09 288.4v-4.9M240.09 8v4.9M246.38 288.4v-4.9M246.38 8v4.9M251.53 288.4v-4.9M251.53 8v4.9M255.88 288.4v-4.9M255.88 8v4.9M259.64 288.4v-4.9M259.64 8v4.9M262.97 288.4v-4.9M262.97 8v4.9M265.94 288.4v-4.9M265.94 8v4.9M285.49 288.4v-4.9M285.49 8v4.9M296.93 288.4v-4.9M296.93 8v4.9M305.05 288.4v-4.9M305.05 8v4.9M311.34 288.4v-4.9M311.34 8v4.9M316.49 288.4v-4.9M316.49 8v4.9M320.84 288.4v-4.9M320.84 8v4.9M324.6 288.4v-4.9M324.6 8v4.9M327.93 288.4v-4.9M327.93 8v4.9M330.9 288.4v-8.8M330.9 8v8.8M51.5 288.4h4.9M330.9 288.4h-4.9M51.5 276.34h4.9M330.9 276.34h-4.9M51.5 269.29h4.9M330.9 269.29h-4.9M51.5 264.28h4.9M330.9 264.28h-4.9M51.5 260.4h4.9M330.9 260.4h-4.9M51.5 257.23h4.9M330.9 257.23h-4.9M51.5 254.55h4.9M330.9 254.55h-4.9M51.5 252.22h4.9M330.9 252.22h-4.9M51.5 250.18h4.9M330.9 250.18h-4.9M51.5 248.34h8.8M330.9 248.34h-8.8M51.5 236.28h4.9M330.9 236.28h-4.9M51.5 229.23h4.9M330.9 229.23h-4.9M51.5 224.23h4.9M330.9 224.23h-4.9M51.5 220.34h4.9M330.9 220.34h-4.9M51.5 217.17h4.9M330.9 217.17h-4.9M51.5 214.49h4.9M330.9 214.49h-4.9M51.5 212.17h4.9M330.9 212.17h-4.9M51.5 210.12h4.9M330.9 210.12h-4.9M51.5 208.29h4.9M330.9 208.29h-4.9M51.5 196.23h4.9M330.9 196.23h-4.9M51.5 189.17h4.9M330.9 189.17h-4.9M51.5 184.17h4.9M330.9 184.17h-4.9M51.5 180.29h4.9M330.9 180.29h-4.9M51.5 177.12h4.9M330.9 177.12h-4.9M51.5 174.43h4.9M330.9 174.43h-4.9M51.5 172.11h4.9M330.9 172.11h-4.9M51.5 170.06h4.9M330.9 170.06h-4.9M51.5 168.23h8.8M330.9 168.23h-8.8M51.5 156.17h4.9M330.9 156.17h-4.9M51.5 149.12h4.9M330.9 149.12h-4.9M51.5 144.11h4.9M330.9 144.11h-4.9M51.5 140.23h4.9M330.9 140.23h-4.9M51.5 137.06h4.9M330.9 137.06h-4.9M51.5 134.38h4.9M330.9 134.38h-4.9M51.5 132.05h4.9M330.9 132.05h-4.9M51.5 130h4.9M330.9 130h-4.9M51.5 128.17h4.9M330.9 128.17h-4.9M51.5 116.11h4.9M330.9 116.11h-4.9M51.5 109.06h4.9M330.9 109.06h-4.9M51.5 104.05h4.9M330.9 104.05h-4.9M51.5 100.17h4.9M330.9 100.17h-4.9M51.5 97h4.9M330.9 97h-4.9M51.5 94.32h4.9M330.9 94.32h-4.9M51.5 92h4.9M330.9 92h-4.9M51.5 89.95h4.9M330.9 89.95h-4.9M51.5 88.11h8.8M330.9 88.11h-8.8M51.5 76.06h4.9M330.9 76.06h-4.9M51.5 69h4.9M330.9 69h-4.9M51.5 64h4.9M330.9 64h-4.9M51.5 60.12h4.9M330.9 60.12h-4.9M51.5 56.94h4.9M330.9 56.94h-4.9M51.5 54.26h4.9M330.9 54.26h-4.9M51.5 51.94h4.9M330.9 51.94h-4.9M51.5 49.89h4.9M330.9 49.89h-4.9M51.5 48.06h4.9M330.9 48.06h-4.9M51.5 36h4.9M330.9 36h-4.9M51.5 28.95h4.9M330.9 28.95h-4.9M51.5 23.94h4.9M330.9 23.94h-4.9M51.5 20.06h4.9M330.9 20.06h-4.9M51.5 16.89h4.9M330.9 16.89h-4.9M51.5 14.2h4.9M330.9 14.2h-4.9M51.5 11.88h4.9M330.9 11.88h-4.9M51.5 9.83h4.9M330.9 9.83h-4.9M51.5 8h8.8M330.9 8h-8.8" stroke="#222" stroke-width="1.15" fill="none"/>
<rect x="51.5" y="8" width="279.4" height="280.4" stroke="#222" stroke-width="1.8" fill="none"/>
<path d="M406.5 289.9v-8.8M406.5 11.9v8.8M424.29 289.9v-4.9M424.29 11.9v4.9M434.7 289.9v-4.9M434.7 11.9v4.9M442.08 289.9v-4.9M442.08 11.9v4.9M447.81 289.9v-4.9M447.81 11.9v4.9M452.49 289.9v-4.9M452.49 11.9v4.9M456.44 289.9v-4.9M456.44 11.9v4.9M459.87 289.9v-4.9M459.87 11.9v4.9M462.89 289.9v-4.9M462.89 11.9v4.9M465.6 289.9v-4.9M465.6 11.9v4.9M483.39 289.9v-4.9M483.39 11.9v4.9M493.79 289.9v-4.9M493.79 11.9v4.9M501.18 289.9v-4.9M501.18 11.9v4.9M506.91 289.9v-4.9M506.91 11.9v4.9M511.59 289.9v-4.9M511.59 11.9v4.9M515.54 289.9v-4.9M515.54 11.9v4.9M518.97 289.9v-4.9M518.97 11.9v4.9M521.99 289.9v-4.9M521.99 11.9v4.9M524.7 289.9v-8.8M524.7 11.9v8.8M542.49 289.9v-4.9M542.49 11.9v4.9M552.89 289.9v-4.9M552.89 11.9v4.9M560.28 289.9v-4.9M560.28 11.9v4.9M566 289.9v-4.9M566 11.9v4.9M570.68 289.9v-4.9M570.68 11.9v4.9M574.64 289.9v-4.9M574.64 11.9v4.9M578.07 289.9v-4.9M578.07 11.9v4.9M581.09 289.9v-4.9M581.09 11.9v4.9M583.79 289.9v-4.9M583.79 11.9v4.9M601.58 289.9v-4.9M601.58 11.9v4.9M611.99 289.9v-4.9M611.99 11.9v4.9M619.37 289.9v-4.9M619.37 11.9v4.9M625.1 289.9v-4.9M625.1 11.9v4.9M629.78 289.9v-4.9M629.78 11.9v4.9M633.74 289.9v-4.9M633.74 11.9v4.9M637.17 289.9v-4.9M637.17 11.9v4.9M640.19 289.9v-4.9M640.19 11.9v4.9M642.89 289.9v-8.8M642.89 11.9v8.8M660.68 289.9v-4.9M660.68 11.9v4.9M671.09 289.9v-4.9M671.09 11.9v4.9M678.47 289.9v-4.9M678.47 11.9v4.9M684.2 289.9v-4.9M684.2 11.9v4.9M406.5 289.9h8.8M684.2 289.9h-8.8M406.5 268.98h4.9M684.2 268.98h-4.9M406.5 256.74h4.9M684.2 256.74h-4.9M406.5 248.06h4.9M684.2 248.06h-4.9M406.5 241.32h4.9M684.2 241.32h-4.9M406.5 235.82h4.9M684.2 235.82h-4.9M406.5 231.17h4.9M684.2 231.17h-4.9M406.5 227.14h4.9M684.2 227.14h-4.9M406.5 223.58h4.9M684.2 223.58h-4.9M406.5 220.4h8.8M684.2 220.4h-8.8M406.5 199.48h4.9M684.2 199.48h-4.9M406.5 187.24h4.9M684.2 187.24h-4.9M406.5 178.56h4.9M684.2 178.56h-4.9M406.5 171.82h4.9M684.2 171.82h-4.9M406.5 166.32h4.9M684.2 166.32h-4.9M406.5 161.67h4.9M684.2 161.67h-4.9M406.5 157.64h4.9M684.2 157.64h-4.9M406.5 154.08h4.9M684.2 154.08h-4.9M406.5 150.9h8.8M684.2 150.9h-8.8M406.5 129.98h4.9M684.2 129.98h-4.9M406.5 117.74h4.9M684.2 117.74h-4.9M406.5 109.06h4.9M684.2 109.06h-4.9M406.5 102.32h4.9M684.2 102.32h-4.9M406.5 96.82h4.9M684.2 96.82h-4.9M406.5 92.17h4.9M684.2 92.17h-4.9M406.5 88.14h4.9M684.2 88.14h-4.9M406.5 84.58h4.9M684.2 84.58h-4.9M406.5 81.4h8.8M684.2 81.4h-8.8M406.5 60.48h4.9M684.2 60.48h-4.9M406.5 48.24h4.9M684.2 48.24h-4.9M406.5 39.56h4.9M684.2 39.56h-4.9M406.5 32.82h4.9M684.2 32.82h-4.9M406.5 27.32h4.9M684.2 27.32h-4.9M406.5 22.67h4.9M684.2 22.67h-4.9M406.5 18.64h4.9M684.2 18.64h-4.9M406.5 15.08h4.9M684.2 15.08h-4.9M406.5 11.9h8.8M684.2 11.9h-8.8" stroke="#222" stroke-width="1.15" fill="none"/>
<rect x="406.5" y="11.9" width="277.7" height="278" stroke="#222" stroke-width="1.8" fill="none"/>
<text x="46.3" y="17.1" text-anchor="end" class="tl">10<tspan class="sup" dy="-7.0">0</tspan></text>
<text x="46.3" y="97.21" text-anchor="end" class="tl">10<tspan class="sup" dy="-7.0">-2</tspan></text>
<text x="46.3" y="177.33" text-anchor="end" class="tl">10<tspan class="sup" dy="-7.0">-4</tspan></text>
<text x="46.3" y="257.44" text-anchor="end" class="tl">10<tspan class="sup" dy="-7.0">-6</tspan></text>
<text x="71.06" y="313.9" text-anchor="middle" class="tl">10<tspan class="sup" dy="-7.0">-2</tspan></text>
<text x="200.98" y="313.9" text-anchor="middle" class="tl">10<tspan class="sup" dy="-7.0">0</tspan></text>
<text x="330.9" y="313.9" text-anchor="middle" class="tl">10<tspan class="sup" dy="-7.0">2</tspan></text>
<text x="401.2" y="21.3" text-anchor="end" class="tl">10<tspan class="sup" dy="-7.0">3</tspan></text>
<text x="401.2" y="90.8" text-anchor="end" class="tl">10<tspan class="sup" dy="-7.0">2</tspan></text>
<text x="401.2" y="160.3" text-anchor="end" class="tl">10<tspan class="sup" dy="-7.0">1</tspan></text>
<text x="401.2" y="229.8" text-anchor="end" class="tl">10<tspan class="sup" dy="-7.0">0</tspan></text>
<text x="401.2" y="299.3" text-anchor="end" class="tl">10<tspan class="sup" dy="-7.0">-1</tspan></text>
<text x="406.5" y="314.8" text-anchor="middle" class="tl">10<tspan class="sup" dy="-7.0">-2</tspan></text>
<text x="524.7" y="314.8" text-anchor="middle" class="tl">10<tspan class="sup" dy="-7.0">0</tspan></text>
<text x="642.89" y="314.8" text-anchor="middle" class="tl">10<tspan class="sup" dy="-7.0">2</tspan></text>
<text x="66.7" y="34.2" class="pl">a</text>
<text x="418" y="34.2" class="pl">b</text>
<text transform="translate(15.4 151.4) rotate(-90)" text-anchor="middle" class="at">MSD (&#956;m<tspan class="sup2" dy="-6.5">2</tspan><tspan dy="6.5">)</tspan></text>
<text transform="translate(371.4 150.8) rotate(-90)" text-anchor="middle" class="at">G', G" (Pa)</text>
<text x="191.2" y="341.0" text-anchor="middle" class="atx"><tspan class="gr">&#964;</tspan> (s)</text>
<text x="519.5" y="341.0" text-anchor="middle" class="atx"><tspan class="gr">&#969;</tspan> (s<tspan class="sup2" dy="-7">-1</tspan><tspan dy="7">)</tspan></text>
</svg>
</body></html>
